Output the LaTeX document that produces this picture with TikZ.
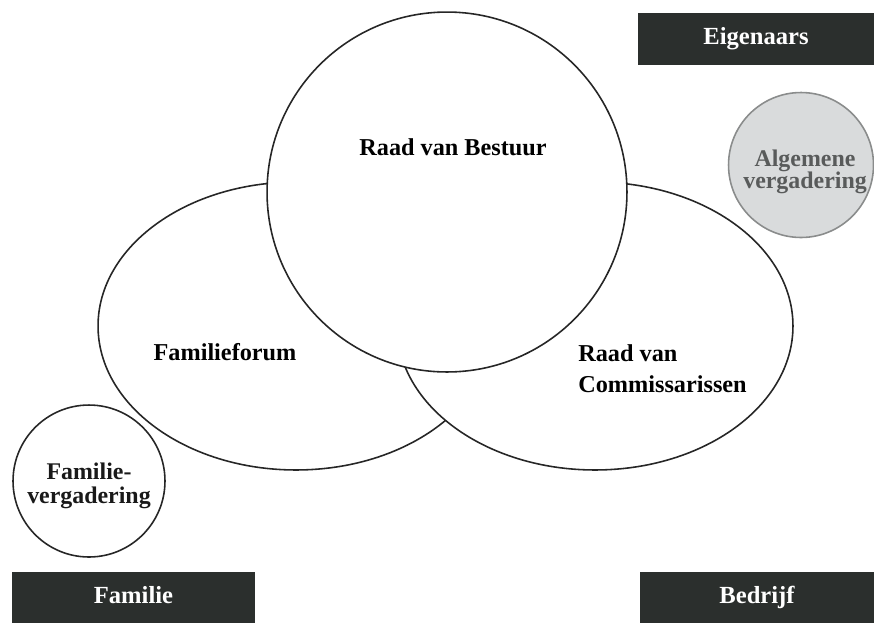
\documentclass[tikz,border=0pt]{standalone}
\usepackage{fontspec}
\setmainfont{Liberation Serif}
\usepackage{tikz}
\usetikzlibrary{shapes,positioning}
\definecolor{bandgray}{HTML}{2B2F2D}
\definecolor{avfill}{HTML}{D9DBDC}
\definecolor{avline}{HTML}{8A8C8C}
\definecolor{avtext}{HTML}{595B5B}
\tikzstyle{ring} = [draw=black!85, line width=0.9pt, fill=white, inner sep=0pt]

\begin{document}
\begin{tikzpicture}[x=0.02cm, y=-0.02cm,
      board/.style={font=\fontsize{13.8}{17.5}\selectfont\bfseries, inner sep=0pt},
      meeting/.style={font=\fontsize{13.6}{13.6}\selectfont\bfseries, align=center, inner sep=0pt},
      band/.style={fill=bandgray, text=white, inner sep=0pt,
      minimum height=1.03cm, text height=0.66em, text depth=0pt,
      font=\fontsize{14}{16}\selectfont\bfseries}]
    \useasboundingbox (0,0) rectangle (874,623);
    %% overlapping bodies
    \node [ring, ellipse, minimum width=7.92cm, minimum height=5.76cm] (FF) at (296,326) {};
    \node [ring, ellipse, minimum width=7.92cm, minimum height=5.76cm] (RC) at (595,326) {};
    \node [ring, circle, minimum size=7.2cm] (RB) at (447,192) {};
    \node [board] (RBtext) at (453,147) {Raad van Bestuur};
    \node [board] (FFtext) at (225,352) {Familieforum};
    \node [board, align=left, anchor=west] (RCtext) at (578,369) {Raad van\\Commissarissen};
    %% meetings
    \node [ring, circle, minimum size=3.04cm] (FV) at (89,481) {};
    \node [meeting, text=black!90] (FVtext) at (89,486) {Familie-\\vergadering};
    \node [ring, circle, draw=avline, fill=avfill, minimum size=2.9cm] (AV) at (801,165) {};
    \node [meeting, text=avtext, font=\fontsize{13.6}{12.5}\selectfont\bfseries] (AVtext) at (805,172) {Algemene\\vergadering};
    %% bands
    \node [band, minimum width=4.72cm] (E) at (756,39) {Eigenaars};
    \node [band, minimum width=4.86cm] (F) at (133.5,597.5) {Familie};
    \node [band, minimum width=4.68cm] (B) at (757,597.5) {Bedrijf};
  \end{tikzpicture}
\end{document}
